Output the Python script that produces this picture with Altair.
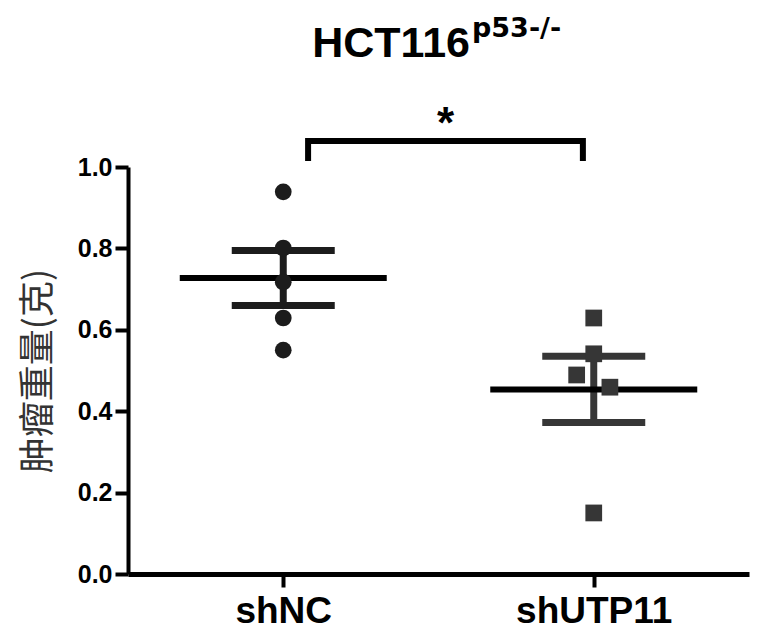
import altair as alt
import pandas as pd

# ---- data ----
groups = ["shNC", "shUTP11"]
shNC_weight = [0.939, 0.801, 0.717, 0.629, 0.550]
shUTP11_weight = [0.629, 0.541, 0.489, 0.459, 0.150]
shNC_jitter = [0, 0, 0, 0, 0]
shUTP11_jitter = [0, 0, -0.055, 0.052, 0]
y_ticks = [0.0, 0.2, 0.4, 0.6, 0.8, 1.0]
y_title = "肿瘤重量(克)"
title_main = "HCT116"
title_sup = "p53-/-"
sig_label = "*"
bracket_x = [1.08, 1.965]
bracket_top = 1.064
bracket_bottom = 1.015
star_y = 1.123

rows = []
for gi, (g, vals, jit) in enumerate(
    [(groups[0], shNC_weight, shNC_jitter), (groups[1], shUTP11_weight, shUTP11_jitter)]
):
    for v, j in zip(vals, jit):
        rows.append({"group": g, "gx": gi + 1, "px": gi + 1 + j, "weight": v})
df = pd.DataFrame(rows)

bracket_df = pd.DataFrame(
    {
        "bx": [bracket_x[0], bracket_x[0], bracket_x[1], bracket_x[1]],
        "by": [bracket_bottom, bracket_top, bracket_top, bracket_bottom],
        "order": [0, 1, 2, 3],
    }
)
star_df = pd.DataFrame({"sx": [sum(bracket_x) / 2], "sy": [star_y], "t": [sig_label]})

FONT = "Liberation Sans"

xscale = alt.Scale(domain=[0.5, 2.5], nice=False, zero=False)
yscale = alt.Scale(domain=[0, 1], nice=False)

label_expr = "[" + ",".join("'" + g + "'" for g in groups) + "][datum.value - 1]"

x_axis = alt.Axis(
    values=[1, 2],
    labelExpr=label_expr,
    labelFont=FONT,
    labelFontSize=37,
    labelFontWeight="bold",
    labelColor="black",
    labelPadding=6,
    domainColor="black",
    domainWidth=5,
    tickColor="black",
    tickWidth=4,
    tickSize=13,
    grid=False,
    title=None,
)
y_axis = alt.Axis(
    values=y_ticks,
    format=".1f",
    labelFont=FONT,
    labelFontSize=25,
    labelFontWeight="bold",
    labelColor="black",
    labelPadding=3,
    domainColor="black",
    domainWidth=4,
    tickColor="black",
    tickWidth=4,
    tickSize=13,
    grid=False,
    title=y_title,
    titleFont="Noto Sans CJK SC",
    titleFontSize=36,
    titleFontWeight="normal",
    titleColor="#333333",
    titlePadding=20,
)

color_scale = alt.Scale(domain=groups, range=["#1c1c1c", "#363636"])
shape_scale = alt.Scale(domain=groups, range=["circle", "square"])

base = alt.Chart(df)

stats = base.transform_aggregate(
    mean="mean(weight)", sem="stderr(weight)", groupby=["group", "gx"]
).transform_calculate(lo="datum.mean - datum.sem", hi="datum.mean + datum.sem")

vbar = stats.mark_rule(strokeWidth=7, opacity=1).encode(
    x=alt.X("gx:Q", scale=xscale, axis=x_axis),
    y=alt.Y("lo:Q", scale=yscale, axis=y_axis),
    y2="hi:Q",
    color=alt.Color("group:N", scale=color_scale, legend=None),
)
cap_lo = stats.mark_tick(orient="horizontal", size=103, thickness=7, opacity=1).encode(
    x=alt.X("gx:Q", scale=xscale),
    y=alt.Y("lo:Q", scale=yscale),
    color=alt.Color("group:N", scale=color_scale, legend=None),
)
cap_hi = stats.mark_tick(orient="horizontal", size=103, thickness=7, opacity=1).encode(
    x=alt.X("gx:Q", scale=xscale),
    y=alt.Y("hi:Q", scale=yscale),
    color=alt.Color("group:N", scale=color_scale, legend=None),
)
mean_line = stats.mark_tick(
    orient="horizontal", size=207, thickness=6, color="black", opacity=1
).encode(
    x=alt.X("gx:Q", scale=xscale),
    y=alt.Y("mean:Q", scale=yscale),
)
points = base.mark_point(filled=True, opacity=1, size=280).encode(
    x=alt.X("px:Q", scale=xscale),
    y=alt.Y("weight:Q", scale=yscale),
    color=alt.Color("group:N", scale=color_scale, legend=None),
    shape=alt.Shape("group:N", scale=shape_scale, legend=None),
)

bracket = alt.Chart(bracket_df).mark_line(
    color="black", strokeWidth=6, strokeCap="butt", strokeJoin="miter"
).encode(
    x=alt.X("bx:Q", scale=xscale),
    y=alt.Y("by:Q", scale=yscale),
    order="order:Q",
)
star = alt.Chart(star_df).mark_text(
    font=FONT, fontSize=44, fontWeight="bold", color="black", baseline="middle", align="center", dy=8
).encode(
    x=alt.X("sx:Q", scale=xscale),
    y=alt.Y("sy:Q", scale=yscale),
    text="t:N",
)

title_text = alt.Chart(pd.DataFrame({"t": [title_main]})).mark_text(
    font=FONT, fontSize=43, fontWeight="bold", color="black", align="right", baseline="alphabetic"
).encode(x=alt.value(342), y=alt.value(-110), text="t:N")
sup_text = alt.Chart(pd.DataFrame({"t": [title_sup]})).mark_text(
    font="DejaVu Sans", fontSize=27, fontWeight="bold", color="black", align="left", baseline="alphabetic"
).encode(x=alt.value(344), y=alt.value(-130), text="t:N")

chart = (
    alt.layer(vbar, cap_lo, cap_hi, mean_line, points, bracket, star, title_text, sup_text)
    .properties(
        width=621,
        height=407,
        autosize=alt.AutoSizeParams(type="none"),
        padding={"left": 120, "top": 159, "right": 6, "bottom": 60},
        view=alt.ViewBackground(stroke=None, strokeWidth=0),
    )
    .configure_view(stroke=None, strokeWidth=0)
    .configure(background="white")
)

chart.save("out.html", embed_options={"renderer": "svg", "actions": False})
